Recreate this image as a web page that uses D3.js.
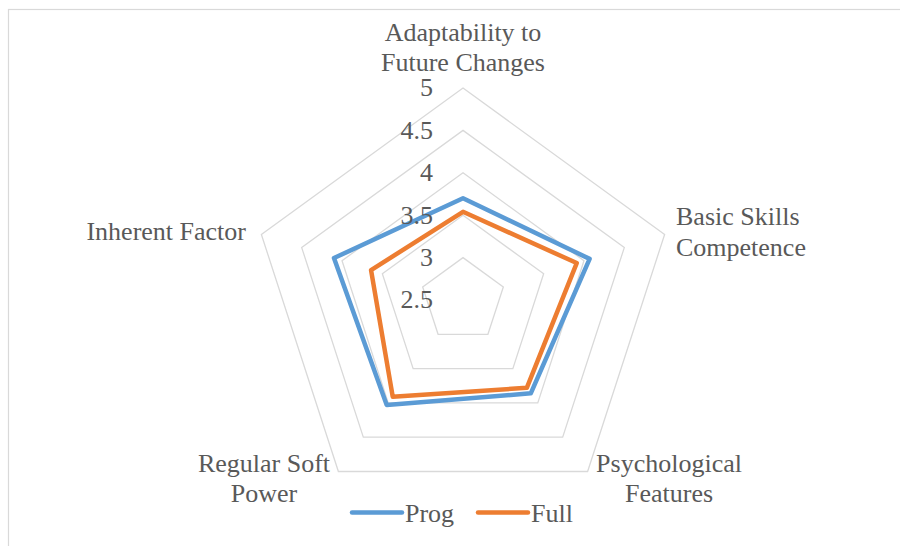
<!DOCTYPE html>
<html>
<head>
<meta charset="utf-8">
<script src="https://cdn.jsdelivr.net/npm/d3@7"></script>
<style>
  html, body { margin: 0; padding: 0; background: #fff; }
  svg { display: block; }
  text { fill: #595959; }
</style>
</head>
<body>
<svg id="chart" width="900" height="546" font-family="'Liberation Serif', 'Times New Roman', Times, 'DejaVu Serif', serif"></svg>
<script>
// data
const axes = ['Adaptability to Future Changes', 'Basic Skills Competence', 'Psychological Features', 'Regular Soft Power', 'Inherent Factor'];
const prog = [3.7, 4.07, 3.86, 4.03, 4.1];
const full = [3.54, 3.91, 3.78, 3.91, 3.64];
const ticks = [2.5, 3, 3.5, 4, 4.5, 5];
const seriesNames = ['Prog', 'Full'];
const colors = ['#5b9bd5', '#ed7d31'];

// label lines per axis
const axisLabelLines = [
  ['Adaptability to', 'Future Changes'],
  ['Basic Skills', 'Competence'],
  ['Psychological', 'Features'],
  ['Regular Soft', 'Power'],
  ['Inherent Factor']
];

const svg = d3.select('#chart');
const cx = 463, cy = 300, R = 212;
const fontSize = 26;

// frame
svg.append('rect')
  .attr('x', 8.5).attr('y', 9.5)
  .attr('width', 1000).attr('height', 1000)
  .attr('fill', 'none')
  .attr('stroke', '#d9d9d9')
  .attr('stroke-width', 1.2);

const r = d3.scaleLinear().domain([2.5, 5]).range([0, R]);
const angle = d3.scalePoint().domain(d3.range(axes.length)).range([0, 2 * Math.PI * (axes.length - 1) / axes.length]);

const point = (v, i) => [cx + r(v) * Math.sin(angle(i)), cy - r(v) * Math.cos(angle(i))];

const g = svg.append('g');

// rings
const line = d3.line().curve(d3.curveLinearClosed);
g.append('g')
  .selectAll('path')
  .data(ticks.filter(t => t > 2.5))
  .enter().append('path')
  .attr('d', (t) => line(axes.map((a, i) => point(t, i))))
  .attr('fill', 'none')
  .attr('stroke', '#d9d9d9')
  .attr('stroke-width', 1.3);

// series
const series = [prog, full];
g.append('g')
  .selectAll('path')
  .data(series)
  .enter().append('path')
  .attr('d', (d) => line(d.map((v, i) => point(v, i))))
  .attr('fill', 'none')
  .attr('stroke', (d, i) => colors[i])
  .attr('stroke-width', 4.5)
  .attr('stroke-linejoin', 'round');

// tick labels
g.append('g')
  .selectAll('text')
  .data(ticks)
  .enter().append('text')
  .attr('x', cx - 30)
  .attr('y', (t) => cy - r(t))
  .attr('dy', '0.32em')
  .attr('text-anchor', 'end')
  .attr('font-size', fontSize)
  .text((t) => t);

// axis labels
const labelPos = [
  { x: 463, y: 40.5, anchor: 'middle' },
  { x: 676, y: 225, anchor: 'start' },
  { x: 669, y: 471.5, anchor: 'middle' },
  { x: 264, y: 471.5, anchor: 'middle' },
  { x: 246, y: 240, anchor: 'end' }
];
axisLabelLines.forEach((lines, i) => {
  const t = g.append('text')
    .attr('x', labelPos[i].x)
    .attr('y', labelPos[i].y)
    .attr('text-anchor', labelPos[i].anchor)
    .attr('font-size', fontSize);
  lines.forEach((l, j) => {
    t.append('tspan')
      .attr('x', labelPos[i].x)
      .attr('dy', j === 0 ? 0 : 30.5)
      .text(l);
  });
});

// legend
const legend = svg.append('g');
const legendX = [352, 478];
seriesNames.forEach((name, i) => {
  legend.append('line')
    .attr('x1', legendX[i]).attr('x2', legendX[i] + 50)
    .attr('y1', 512.5).attr('y2', 512.5)
    .attr('stroke', colors[i])
    .attr('stroke-width', 4.5)
    .attr('stroke-linecap', 'round');
  legend.append('text')
    .attr('x', legendX[i] + 53)
    .attr('y', 521.5)
    .attr('font-size', fontSize)
    .text(name);
});
</script>
</body>
</html>
